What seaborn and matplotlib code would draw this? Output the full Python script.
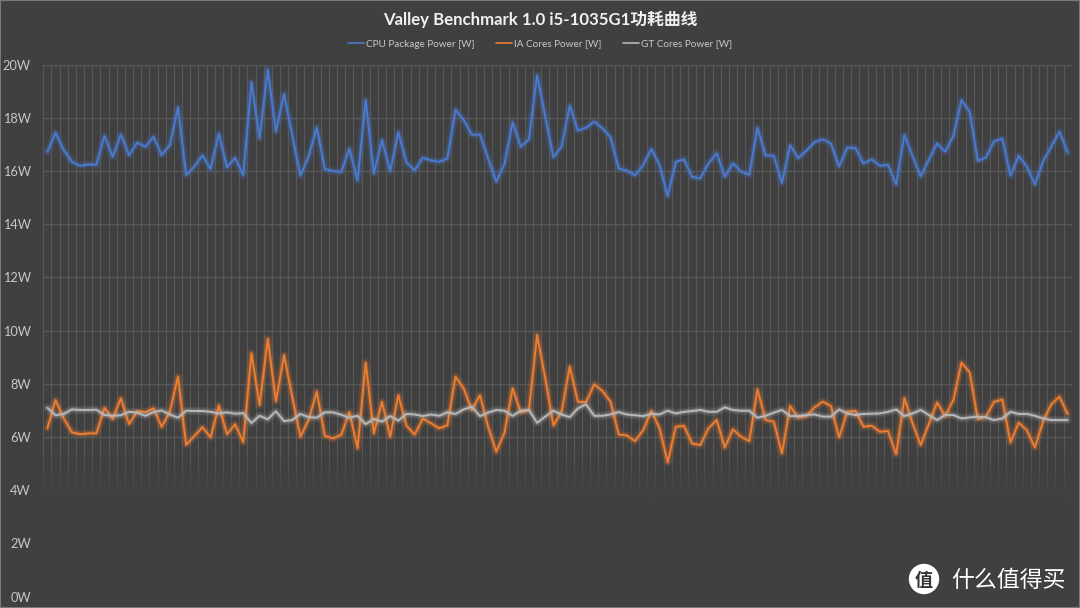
import matplotlib
matplotlib.use("Agg")
import matplotlib.pyplot as plt
import matplotlib.patheffects as pe
from matplotlib.patches import Ellipse, Rectangle
from matplotlib.lines import Line2D
import numpy as np
import pandas as pd
import seaborn as sns

# values (one sample per category)
cpu_package = [16.73, 17.44, 16.79, 16.35, 16.20, 16.25, 16.24, 17.32, 16.54, 17.38,
               16.60, 17.07, 16.92, 17.29, 16.60, 16.98, 18.40, 15.85, 16.17, 16.59,
               16.08, 17.41, 16.14, 16.50, 15.85, 19.34, 17.23, 19.82, 17.49, 18.90,
               17.36, 15.83, 16.54, 17.64, 16.08, 16.00, 15.97, 16.84, 15.64, 18.67,
               15.91, 17.17, 16.00, 17.46, 16.32, 16.03, 16.50, 16.40, 16.35, 16.47,
               18.30, 17.92, 17.37, 17.37, 16.48, 15.60, 16.27, 17.83, 16.92, 17.19,
               19.60, 18.05, 16.52, 16.92, 18.46, 17.52, 17.63, 17.86, 17.61, 17.27,
               16.10, 16.01, 15.84, 16.23, 16.83, 16.23, 15.06, 16.35, 16.44, 15.78,
               15.73, 16.29, 16.67, 15.79, 16.29, 15.98, 15.86, 17.63, 16.59, 16.58,
               15.55, 16.97, 16.49, 16.77, 17.09, 17.19, 17.04, 16.17, 16.88, 16.87,
               16.29, 16.44, 16.20, 16.23, 15.50, 17.36, 16.57, 15.80, 16.42, 17.04,
               16.73, 17.32, 18.67, 18.23, 16.38, 16.52, 17.12, 17.22, 15.83, 16.57,
               16.17, 15.50, 16.38, 16.92, 17.48, 16.70]

ia_cores = [6.33, 7.39, 6.70, 6.18, 6.11, 6.14, 6.14, 7.10, 6.68, 7.46,
            6.49, 6.97, 6.94, 7.08, 6.39, 6.95, 8.27, 5.71, 6.04, 6.37,
            5.99, 7.19, 6.11, 6.48, 5.81, 9.15, 7.20, 9.70, 7.35, 9.08,
            7.52, 6.01, 6.64, 7.71, 6.04, 5.95, 6.08, 6.94, 5.58, 8.80,
            6.14, 7.33, 6.01, 7.58, 6.42, 6.10, 6.69, 6.52, 6.33, 6.44,
            8.27, 7.83, 7.02, 7.57, 6.39, 5.45, 6.16, 7.83, 6.92, 7.02,
            9.84, 8.21, 6.44, 6.95, 8.65, 7.33, 7.32, 7.98, 7.74, 7.33,
            6.10, 6.06, 5.85, 6.26, 6.99, 6.33, 5.05, 6.39, 6.42, 5.76,
            5.70, 6.33, 6.64, 5.61, 6.29, 6.01, 5.85, 7.79, 6.64, 6.58,
            5.39, 7.17, 6.73, 6.79, 7.12, 7.33, 7.17, 5.99, 6.95, 6.99,
            6.39, 6.43, 6.20, 6.23, 5.35, 7.46, 6.52, 5.70, 6.49, 7.30,
            6.80, 7.39, 8.80, 8.43, 6.67, 6.77, 7.33, 7.41, 5.80, 6.54,
            6.26, 5.61, 6.60, 7.23, 7.52, 6.87]

gt_cores = [7.10, 6.82, 6.87, 7.04, 7.02, 7.02, 7.03, 6.83, 6.80, 6.82,
            6.95, 6.92, 6.80, 6.94, 7.00, 6.85, 6.73, 6.99, 6.98, 6.98,
            6.95, 6.89, 6.93, 6.88, 6.90, 6.53, 6.80, 6.67, 6.97, 6.60,
            6.64, 6.87, 6.75, 6.73, 6.93, 6.93, 6.84, 6.73, 6.80, 6.49,
            6.68, 6.58, 6.79, 6.62, 6.87, 6.85, 6.79, 6.85, 6.80, 6.93,
            6.87, 7.04, 7.14, 6.79, 6.92, 7.02, 6.99, 6.80, 6.99, 7.02,
            6.54, 6.77, 6.99, 6.85, 6.75, 7.08, 7.23, 6.80, 6.80, 6.85,
            6.94, 6.85, 6.82, 6.79, 6.87, 6.85, 6.99, 6.89, 6.95, 6.98,
            7.02, 6.95, 6.95, 7.12, 7.02, 6.99, 6.99, 6.73, 6.80, 6.92,
            7.02, 6.79, 6.79, 6.83, 6.85, 6.77, 6.77, 7.04, 6.89, 6.83,
            6.87, 6.88, 6.89, 6.95, 7.04, 6.79, 6.89, 7.02, 6.83, 6.64,
            6.83, 6.83, 6.70, 6.74, 6.77, 6.74, 6.64, 6.70, 6.95, 6.87,
            6.87, 6.80, 6.70, 6.64, 6.64, 6.64]

series_names = ["CPU Package Power [W]", "IA Cores Power [W]", "GT Cores Power [W]"]
series_colors = ["#4a7ad0", "#ed7d31", "#b8b8b8"]
y_ticks = [0, 2, 4, 6, 8, 10, 12, 14, 16, 18, 20]
y_labels = [f"{v}W" for v in y_ticks]
title = "Valley Benchmark 1.0 i5-1035G1功耗曲线"

bg = "#404040"
grid_color = "#585858"
text_color = "#c8c8c8"

sns.set_theme(style="dark", rc={"axes.facecolor": bg, "figure.facecolor": bg,
                                "axes.edgecolor": bg, "axes.axisbelow": True})
plt.rcParams["font.family"] = ["Lato", "Noto Sans CJK SC", "DejaVu Sans"]

n = len(cpu_package)
df = pd.DataFrame({
    "sample": list(range(n)) * 3,
    "power": cpu_package + ia_cores + gt_cores,
    "series": [series_names[0]] * n + [series_names[1]] * n + [series_names[2]] * n,
})

fig = plt.figure(figsize=(10.8, 6.08), dpi=100)
ax = fig.add_axes([0.0401, 0.0186, 0.9522, 0.875])


def glow(color):
    return [pe.Stroke(linewidth=6, foreground=color, alpha=0.12),
            pe.Stroke(linewidth=3.5, foreground=color, alpha=0.25),
            pe.Normal()]


for name, color in zip(series_names, series_colors):
    sns.lineplot(data=df[df["series"] == name], x="sample", y="power", ax=ax,
                 color=color, linewidth=1.4, legend=False, zorder=3,
                 path_effects=glow(color))

# grid: horizontal at ticks, vertical at category boundaries
ax.set_xlim(-0.5, n - 0.5)
ax.set_ylim(0, 20)
ax.set_yticks(y_ticks)
ax.set_yticklabels(y_labels)
ax.set_xticks([])
ax.set_xticks(np.arange(-0.5, n, 1), minor=True)
ax.grid(True, axis="y", which="major", color=grid_color, linewidth=1)
ax.grid(True, axis="x", which="minor", color=grid_color, linewidth=0.8)
ax.tick_params(axis="y", length=0, pad=9, labelsize=9.2, labelcolor=text_color)
ax.tick_params(axis="x", which="both", length=0)
ax.set_xlabel("")
ax.set_ylabel("")
for s in ax.spines.values():
    s.set_visible(False)

# grid fades out towards the bottom
yy = np.linspace(20, 0, 400)
alpha = np.clip((5.6 - yy) / 2.0, 0, 1)
grad = np.zeros((400, 1, 4))
grad[..., :3] = matplotlib.colors.to_rgb(bg)
grad[:, 0, 3] = alpha
ax.imshow(grad, extent=(-0.5, n - 0.5, 0, 20), aspect="auto", zorder=1,
          interpolation="bilinear")
ax.set_xlim(-0.5, n - 0.5)
ax.set_ylim(0, 20)

fig.text(0.5, 0.969, title, ha="center", va="center", fontsize=12.1,
         fontweight="bold", color="#f0f0f0")

handles = [Line2D([0], [0], color=c, linewidth=1.2) for c in series_colors]
fig.legend(handles, series_names, loc="center", bbox_to_anchor=(0.5, 0.9276),
           ncol=3, frameon=False, fontsize=7.2, labelcolor=text_color,
           handlelength=1.6, handletextpad=0.2, columnspacing=2.2)

# watermark
fig.add_artist(Ellipse((924 / 1080, 1 - 579 / 608), 29 / 1080, 29 / 608,
                       transform=fig.transFigure, color="white", zorder=10))
fig.text(924 / 1080, 1 - 580 / 608, "值", ha="center", va="center", fontsize=13,
         fontweight="bold", color="#333333", family=["Noto Sans CJK SC"], zorder=11)
fig.text(951 / 1080, 1 - 580 / 608, "什么值得买", ha="left", va="center",
         fontsize=16.5, color="white", family=["Noto Sans CJK SC"], zorder=11)

fig.add_artist(Rectangle((0, 0), 1, 1, transform=fig.transFigure, fill=False,
                         edgecolor="#7a7a7a", linewidth=1.5))

fig.savefig("out.png", dpi=100, facecolor=bg)
